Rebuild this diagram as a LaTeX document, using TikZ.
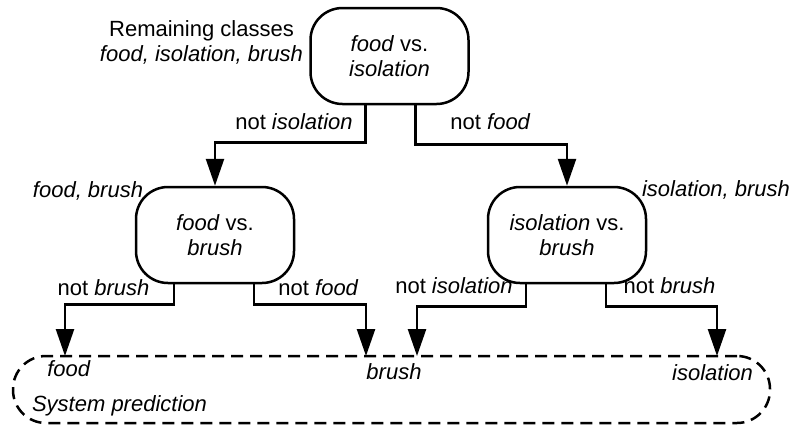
\documentclass[tikz,border=0pt]{standalone}
\usepackage{fontspec}
\setmainfont{Liberation Sans}
\usetikzlibrary{positioning,arrows.meta,calc}

\tikzset{
  test/.style={draw, line width=2.5pt, rounded corners=32pt, minimum width=158pt, minimum height=96pt, align=center, inner sep=0pt},
  lbl/.style={inner sep=0pt, align=center},
  arr/.style={line width=2.5pt, -{Triangle[length=27pt,width=18pt]}},
  predbox/.style={draw, line width=2.5pt, dash pattern=on 12pt off 7pt, rounded corners=33pt, minimum width=757pt, minimum height=67pt}
}

\begin{document}
\begin{tikzpicture}[x=1pt,y=-1pt,font=\fontsize{22}{25}\selectfont]
\useasboundingbox (0,0) rectangle (791,426);

% decision nodes
\node[test] (fi) at (389.5,56) {\textit{food} vs.\\\textit{isolation}};
\node[test] (fb) at (215,235) {\textit{food} vs.\\\textit{brush}};
\node[test] (ib) at (567,235) {\textit{isolation} vs.\\\textit{brush}};

\node[lbl] (rem) at (201.5,42) {Remaining classes\\\textit{food, isolation, brush}};
\node[lbl] (remfb) at (88,191) {\textit{food, brush}};
\node[lbl] (remib) at (716,190) {\textit{isolation, brush}};

% prediction box
\node[predbox] (pred) at (391.5,389.5) {};
\coordinate (tfood) at (65,356);
\coordinate (tbrushl) at (366,356);
\coordinate (tbrushr) at (417,356);
\coordinate (tiso) at (717,356);

\node[lbl] (pfood) at (69,369) {\textit{food}};
\node[lbl] (pbrush) at (394,372) {\textit{brush}};
\node[lbl] (piso) at (712.5,373) {\textit{isolation}};
\node[lbl] (psys) at (119.5,406) {\textit{System prediction}};

% branches
\draw[arr] ($(fi.south)+(-24,0)$) -- ++(0,37) -| (fb.north);
\draw[arr] ($(fi.south)+(26,0)$) -- ++(0,39) -| (ib.north);
\node[lbl] (nfi) at (294,122) {not \textit{isolation}};
\node[lbl] (nff) at (490.5,122) {not \textit{food}};

\draw[arr] ($(fb.south)+(-41,0)$) -- ++(0,20) -| (tfood);
\draw[arr] ($(fb.south)+(39,0)$) -- ++(0,20) -| (tbrushl);
\node[lbl] (nbb) at (103.5,288) {not \textit{brush}};
\node[lbl] (nbf) at (318.5,288) {not \textit{food}};

\draw[arr] ($(ib.south)+(-41,0)$) -- ++(0,22) -| (tbrushr);
\draw[arr] ($(ib.south)+(39,0)$) -- ++(0,22) -| (tiso);
\node[lbl] (nii) at (454,286) {not \textit{isolation}};
\node[lbl] (nib) at (669.5,286) {not \textit{brush}};

\end{tikzpicture}
\end{document}
